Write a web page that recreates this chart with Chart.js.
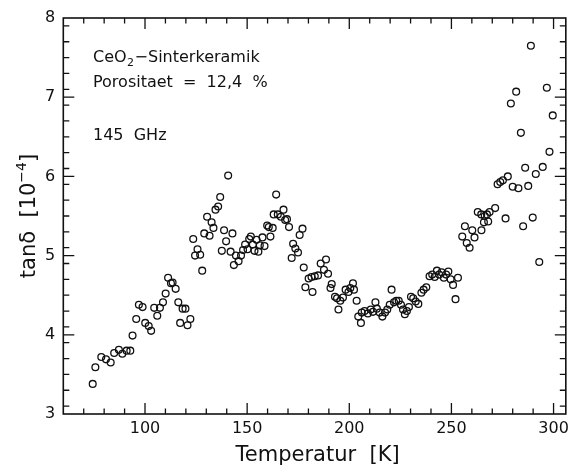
<!DOCTYPE html>
<html>
<head>
<meta charset="utf-8">
<script src="https://cdn.jsdelivr.net/npm/chart.js@4.4.1/dist/chart.umd.min.js"></script>
<style>
  html, body { margin: 0; padding: 0; background: #fff; }
  #wrap { width: 574px; height: 471px; }
</style>
</head>
<body>
<div id="wrap"><canvas id="c" width="574" height="471"></canvas></div>
<script>
// Dielectric loss tangent of CeO2 sinter ceramic at 145 GHz
const temperatureK = [
  74.4, 75.7, 78.6, 80.9, 83.2, 84.9, 87.2, 88.9, 91.0, 92.8,
  93.9, 95.7, 97.0, 98.8, 100.1, 101.8, 103.0, 104.5, 106.0, 107.3,
  108.8, 110.1, 111.3, 112.7, 113.5, 115.0, 116.3, 117.2, 118.4, 119.8,
  120.8, 122.2, 123.6, 124.5, 125.7, 127.0, 128.0, 129.0, 130.4, 131.6,
  132.6, 133.5, 134.5, 135.8, 136.8, 137.6, 138.7, 139.7, 140.7, 141.9,
  142.8, 143.5, 144.5, 145.8, 147.0, 148.0, 149.0, 150.2, 151.0, 151.8,
  152.8, 153.6, 154.6, 155.5, 156.2, 157.5, 158.5, 159.8, 160.6, 161.4,
  162.5, 163.0, 164.2, 165.0, 166.5, 167.8, 168.6, 169.5, 170.5, 171.8,
  172.5, 173.6, 174.9, 175.7, 177.1, 177.7, 178.5, 180.1, 181.5, 182.0,
  183.1, 184.7, 186.0, 187.6, 188.6, 189.6, 190.8, 191.4, 193.0, 194.0,
  194.7, 195.6, 196.9, 198.2, 199.6, 200.5, 201.8, 202.3, 203.6, 204.4,
  205.7, 206.1, 207.5, 209.1, 210.5, 211.6, 212.8, 213.5, 214.9, 216.2,
  217.5, 218.6, 219.8, 220.7, 221.9, 223.0, 224.2, 225.3, 226.3, 227.2,
  228.2, 229.2, 230.2, 231.3, 232.5, 233.8, 235.3, 236.4, 237.7, 239.3,
  240.6, 241.8, 242.9, 244.0, 245.2, 246.3, 247.4, 248.5, 249.6, 250.8,
  252.0, 253.2, 255.3, 256.6, 257.5, 258.9, 260.2, 261.3, 262.9, 264.6,
  264.7, 265.9, 266.3, 267.4, 268.0, 268.7, 271.4, 272.6, 273.9, 275.2,
  276.5, 277.6, 279.1, 280.0, 281.7, 282.8, 284.0, 285.1, 286.1, 287.6,
  288.9, 289.8, 291.3, 293.0, 294.7, 296.7, 298.0, 299.6
];
const tanDelta = [
  3.38, 3.59, 3.72, 3.69, 3.65, 3.77, 3.81, 3.76, 3.80, 3.80,
  3.99, 4.20, 4.38, 4.35, 4.15, 4.11, 4.05, 4.34, 4.24, 4.34,
  4.41, 4.52, 4.72, 4.65, 4.66, 4.58, 4.41, 4.15, 4.33, 4.33,
  4.12, 4.20, 5.21, 5.00, 5.08, 5.01, 4.81, 5.28, 5.49, 5.25,
  5.42, 5.35, 5.58, 5.62, 5.74, 5.06, 5.32, 5.18, 6.01, 5.05,
  5.28, 4.88, 5.00, 4.93, 5.00, 5.07, 5.14, 5.08, 5.21, 5.24,
  5.14, 5.06, 5.20, 5.05, 5.13, 5.23, 5.12, 5.38, 5.36, 5.24,
  5.35, 5.52, 5.77, 5.52, 5.49, 5.58, 5.45, 5.46, 5.36, 4.97,
  5.15, 5.09, 5.04, 5.26, 5.34, 4.85, 4.60, 4.71, 4.73, 4.54,
  4.74, 4.75, 4.90, 4.82, 4.95, 4.77, 4.59, 4.64, 4.48, 4.46,
  4.32, 4.43, 4.47, 4.57, 4.54, 4.59, 4.65, 4.57, 4.43, 4.23,
  4.15, 4.28, 4.30, 4.27, 4.32, 4.29, 4.41, 4.33, 4.28, 4.23,
  4.28, 4.32, 4.38, 4.57, 4.41, 4.43, 4.43, 4.38, 4.32, 4.26,
  4.30, 4.35, 4.48, 4.46, 4.42, 4.39, 4.53, 4.57, 4.60, 4.74,
  4.76, 4.73, 4.81, 4.76, 4.79, 4.72, 4.76, 4.80, 4.70, 4.63,
  4.45, 4.72, 5.24, 5.37, 5.16, 5.10, 5.32, 5.23, 5.55, 5.52,
  5.32, 5.42, 5.50, 5.52, 5.43, 5.55, 5.60, 5.90, 5.93, 5.95,
  5.47, 6.00, 6.92, 5.87, 7.07, 5.85, 6.55, 5.37, 6.11, 5.88,
  7.65, 5.48, 6.03, 4.92, 6.12, 7.12, 6.31, 6.77
];
const xTickLabels = [100, 150, 200, 250, 300];
const yTickLabels = [3, 4, 5, 6, 7, 8];

const FONT = "'DejaVu Sans', 'Liberation Sans', sans-serif";
const INK = '#111';

const points = temperatureK.map((t, i) => ({ x: t, y: tanDelta[i] }));

// Frame with inward major/minor ticks on all four sides
const framePlugin = {
  id: 'frame',
  afterDatasetsDraw(chart) {
    const { ctx, chartArea: a, scales: { x, y } } = chart;
    ctx.save();
    ctx.strokeStyle = INK;
    ctx.lineWidth = 1.6;
    ctx.strokeRect(a.left, a.top, a.right - a.left, a.bottom - a.top);
    ctx.lineWidth = 1.3;
    ctx.beginPath();
    for (let t = 70; t <= 300; t += 10) {
      const px = x.getPixelForValue(t);
      const len = t % 50 === 0 ? 11 : 5.5;
      ctx.moveTo(px, a.bottom); ctx.lineTo(px, a.bottom - len);
      ctx.moveTo(px, a.top); ctx.lineTo(px, a.top + len);
    }
    for (let k = 31; k < 80; k += 2) {
      const v = k / 10;
      const py = y.getPixelForValue(v);
      const major = k % 10 === 0;
      const len = major ? 11 : 6;
      ctx.moveTo(a.left, py); ctx.lineTo(a.left + len, py);
      ctx.moveTo(a.right, py); ctx.lineTo(a.right - len, py);
    }
    for (const v of [4, 5, 6, 7]) {
      const py = y.getPixelForValue(v);
      ctx.moveTo(a.left, py); ctx.lineTo(a.left + 11, py);
      ctx.moveTo(a.right, py); ctx.lineTo(a.right - 11, py);
    }
    ctx.stroke();
    ctx.restore();
  }
};

// Axis titles and sample description
const textPlugin = {
  id: 'texts',
  afterDraw(chart) {
    const { ctx, chartArea: a } = chart;
    ctx.save();
    ctx.fillStyle = INK;
    ctx.textBaseline = 'alphabetic';

    // x title
    ctx.font = `21px ${FONT}`;
    ctx.textAlign = 'center';
    ctx.fillText('Temperatur  [K]', (a.left + a.right) / 2 + 3, 461);

    // y title, rotated, with superscript exponent
    const big = `21px ${FONT}`, small = `14px ${FONT}`;
    const p1 = 'tan\u03b4  [10', p2 = '\u22124', p3 = ']';
    ctx.font = big; const w1 = ctx.measureText(p1).width, w3 = ctx.measureText(p3).width;
    ctx.font = small; const w2 = ctx.measureText(p2).width;
    const total = w1 + w2 + w3;
    ctx.translate(35, (a.top + a.bottom) / 2);
    ctx.rotate(-Math.PI / 2);
    ctx.textAlign = 'left';
    let cx = -total / 2;
    ctx.font = big; ctx.fillText(p1, cx, 0); cx += w1;
    ctx.font = small; ctx.fillText(p2, cx, -9); cx += w2;
    ctx.font = big; ctx.fillText(p3, cx, 0);
    ctx.setTransform(1, 0, 0, 1, 0, 0);

    // sample description
    const tx = 93;
    ctx.textAlign = 'left';
    ctx.font = `16px ${FONT}`;
    ctx.fillText('CeO', tx, 62);
    let wx = tx + ctx.measureText('CeO').width;
    ctx.font = `11px ${FONT}`;
    ctx.fillText('2', wx + 0.5, 66);
    wx += ctx.measureText('2').width + 1;
    ctx.font = `16px ${FONT}`;
    ctx.fillText('\u2212Sinterkeramik', wx, 62);
    ctx.fillText('Porositaet  =  12,4  %', tx, 87);
    ctx.fillText('145  GHz', tx, 140);
    ctx.restore();
  }
};

new Chart(document.getElementById('c'), {
  type: 'scatter',
  data: {
    datasets: [{
      data: points,
      pointStyle: 'circle',
      pointRadius: 3.4,
      pointBorderWidth: 1.3,
      pointBorderColor: INK,
      pointBackgroundColor: 'rgba(0,0,0,0)'
    }]
  },
  options: {
    responsive: false,
    animation: false,
    devicePixelRatio: 1,
    layout: { padding: { top: 18, right: 7, left: 0, bottom: 0 } },
    plugins: { legend: { display: false }, tooltip: { enabled: false } },
    scales: {
      x: {
        type: 'linear', min: 60, max: 306,
        grid: { display: false, drawTicks: false },
        border: { display: false },
        afterBuildTicks: s => { s.ticks = xTickLabels.map(v => ({ value: v })); },
        afterFit: s => { s.height = 57; },
        ticks: { color: INK, font: { family: FONT, size: 16 }, padding: 5, maxRotation: 0 }
      },
      y: {
        type: 'linear', min: 3, max: 8,
        grid: { display: false, drawTicks: false },
        border: { display: false },
        afterBuildTicks: s => { s.ticks = yTickLabels.map(v => ({ value: v })); },
        afterFit: s => { s.width = 63.3; },
        ticks: { color: INK, font: { family: FONT, size: 16 }, padding: 8 }
      }
    }
  },
  plugins: [framePlugin, textPlugin]
});
</script>
</body>
</html>
